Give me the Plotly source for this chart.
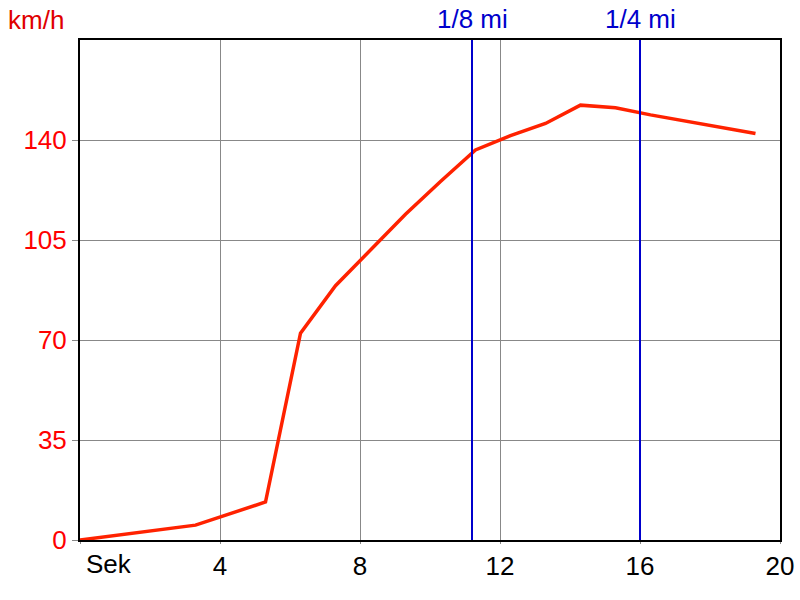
import plotly.graph_objects as go

# Data
time_s = [0, 3.3, 5.3, 6.3, 7.3, 8.3, 9.3, 10.3, 11.3, 12.3, 13.3, 14.3, 15.3, 16.3, 17.3, 18.3, 19.3]
speed_kmh = [0, 5.2, 13.3, 72.4, 89, 101.5, 114, 125.5, 136.5, 141.5, 145.8, 152.2, 151.3, 148.8, 146.6, 144.4, 142.3]

marker_times = [11.2, 16.0]
marker_labels = ["1/8 mi", "1/4 mi"]

x_ticks = [0, 4, 8, 12, 16, 20]
x_tick_text = ["", "4", "8", "12", "16", "20"]
y_ticks = [0, 35, 70, 105, 140]

FONT = "Liberation Sans, Arial, sans-serif"
FS = 26

fig = go.Figure()
fig.add_trace(go.Scatter(x=time_s, y=speed_kmh, mode="lines",
                         line=dict(color="#FF2200", width=3.5), showlegend=False))

for t, lab in zip(marker_times, marker_labels):
    fig.add_shape(type="line", xref="x", yref="paper", x0=t, x1=t, y0=0, y1=1,
                  line=dict(color="#0000CC", width=2), layer="above")
    fig.add_annotation(x=t, y=1, xref="x", yref="paper", text=lab, showarrow=False,
                       yanchor="middle", yshift=21, borderpad=0,
                       font=dict(color="#0000CC", size=FS, family=FONT))

fig.add_annotation(x=0, y=0, xref="paper", yref="paper", text="Sek", showarrow=False,
                   xanchor="left", yanchor="top", xshift=4, yshift=-7,
                   font=dict(color="black", size=FS, family=FONT))
fig.add_annotation(x=0, y=1, xref="paper", yref="paper", text="km/h", showarrow=False,
                   xanchor="center", yanchor="middle", xshift=-44, yshift=20, borderpad=0,
                   font=dict(color="#E00000", size=FS, family=FONT))

fig.update_layout(
    width=800, height=600,
    margin=dict(l=80, r=20, t=40, b=60),
    paper_bgcolor="white", plot_bgcolor="white",
    font=dict(family=FONT, size=FS),
    xaxis=dict(range=[0, 20], tickvals=x_ticks, ticktext=x_tick_text, automargin=False,
               showgrid=True, gridcolor="#888888", gridwidth=1,
               showline=True, linecolor="black", linewidth=2, mirror=True,
               zeroline=False, ticks="outside", ticklen=2, tickcolor="#888888",
               tickfont=dict(color="black", size=FS, family=FONT)),
    yaxis=dict(range=[0, 175], tickvals=y_ticks, automargin=False,
               showgrid=True, gridcolor="#888888", gridwidth=1,
               showline=True, linecolor="black", linewidth=2, mirror=True,
               zeroline=False, ticks="outside", ticklen=6, tickcolor="#888888",
               tickfont=dict(color="#FF0000", size=FS, family=FONT)),
)

fig.write_html("out.html", config={"displayModeBar": False},
               post_script="document.body.style.margin='0';document.body.style.overflow='hidden';")
